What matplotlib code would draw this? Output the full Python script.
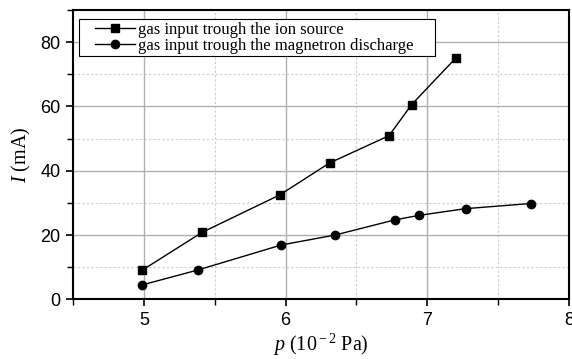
import matplotlib
matplotlib.use("Agg")
import matplotlib.pyplot as plt
from matplotlib.ticker import MultipleLocator
from matplotlib.patches import Rectangle

plt.rcParams["mathtext.fontset"] = "custom"
plt.rcParams["mathtext.it"] = "Liberation Serif:italic"
plt.rcParams["mathtext.rm"] = "Liberation Serif"

p_ion = [4.99, 5.41, 5.96, 6.31, 6.73, 6.89, 7.20]
I_ion = [9.1, 20.8, 32.5, 42.4, 50.9, 60.6, 75.0]
p_mag = [4.99, 5.38, 5.97, 6.35, 6.77, 6.94, 7.27, 7.73]
I_mag = [4.5, 9.1, 16.9, 20.0, 24.7, 26.1, 28.2, 29.8]
label_ion = "gas input trough the ion source"
label_mag = "gas input trough the magnetron discharge"

W, H = 572, 359
fig = plt.figure(figsize=(W/100, H/100), dpi=100)
ax = fig.add_axes([73/W, 1 - 299.3/H, (569-73)/W, (299.3-10)/H])

ax.plot(p_ion, I_ion, color="black", lw=1.0, marker="s", ms=6.3, label=label_ion)
ax.plot(p_mag, I_mag, color="black", lw=1.0, marker="o", ms=6.0, label=label_mag)

ax.set_xlim(4.5, 8)
ax.set_ylim(0, 90)
ax.xaxis.set_major_locator(MultipleLocator(1))
ax.xaxis.set_minor_locator(MultipleLocator(0.5))
ax.yaxis.set_major_locator(MultipleLocator(20))
ax.yaxis.set_minor_locator(MultipleLocator(10))
ax.grid(which="major", color="#b0b0b0", lw=1.0, ls="-")
ax.grid(which="minor", color="#cccccc", lw=0.8, ls=(0, (2, 2)))
ax.set_axisbelow(True)
for s in ax.spines.values():
    s.set_linewidth(1.5)
ax.tick_params(which="major", direction="out", length=5, width=1.2, pad=4,
               labelsize=13, labelfontfamily="Liberation Sans")
ax.tick_params(which="minor", direction="out", length=4, width=1.0)

ax.set_xlabel(r"$p$ (10$^{\rm -2}$ Pa)", family="Liberation Serif", fontsize=14.5, labelpad=2)
ax.set_ylabel(r"$I$ (mA)", family="Liberation Serif", fontsize=14.5, labelpad=5)

# legend frame (Origin style, wide padding)
frame = Rectangle((79/W, 1 - 56/H), (435-79)/W, (56-19)/H,
                  transform=fig.transFigure, facecolor="white",
                  edgecolor="black", lw=0.8, zorder=4, clip_on=False)
ax.add_artist(frame)
leg = ax.legend(loc="upper left", prop={"family": "Liberation Serif", "size": 12},
                frameon=False, handlelength=2.4, borderpad=0.0, labelspacing=0.0,
                borderaxespad=0.0, handletextpad=0.2,
                bbox_to_anchor=(95/W, 1 - 21.5/H), bbox_transform=fig.transFigure)
leg.set_zorder(5)

fig.savefig("out.png", dpi=100)
